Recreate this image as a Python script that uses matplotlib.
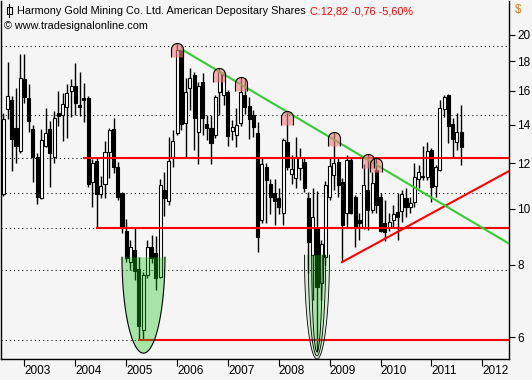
import numpy as np
import matplotlib
matplotlib.use("Agg")
import matplotlib.pyplot as plt
from matplotlib.path import Path
from matplotlib.lines import Line2D
from matplotlib.patches import Rectangle

# ---------------- data (monthly bars, Aug 2002 .. Aug 2011) ----------------

opens = [10.61, 14.89, 15.43, 13.80, 12.59, 16.78, 15.55, 13.75, 12.30, 10.44,
         12.85, 13.75, 12.30, 14.65, 14.53, 15.01, 15.99, 16.32, 15.13, 15.55,
         15.55, 11.13, 12.10, 10.61, 11.04, 12.54, 13.75, 11.82, 10.65, 9.15,
         8.10, 8.49, 7.87, 6.17, 7.68, 8.59, 8.39, 7.62, 10.78, 10.32,
         12.30, 13.53, 18.84, 14.08, 16.19, 17.05, 13.58, 16.58, 14.02, 13.80,
         13.42, 15.93, 15.74, 15.93, 13.64, 13.42, 14.08, 15.74, 15.07, 14.53,
         13.53, 9.57, 11.82, 11.04, 10.65, 10.44, 9.84, 13.06, 11.49, 11.31,
         11.77, 12.05, 10.44, 8.32, 9.27, 7.44, 8.25, 10.49, 11.45, 12.05,
         11.13, 9.84, 12.15, 10.49, 9.57, 9.30, 10.78, 9.95, 11.68, 10.49,
         9.46, 9.30, 9.57, 9.88, 9.91, 10.44, 10.08, 10.28, 11.27, 11.40,
         11.36, 12.64, 10.96, 11.68, 14.89, 15.74, 14.02, 13.06, 13.58]
highs = [14.65, 17.96, 15.68, 16.19, 18.54, 18.54, 16.45, 13.97, 12.50, 13.75,
         14.95, 14.19, 14.77, 15.99, 15.87, 16.45, 16.78, 17.88, 17.25, 16.51,
         15.68, 12.20, 12.25, 11.40, 13.11, 13.80, 14.36, 12.05, 10.70, 9.61,
         8.83, 9.27, 8.25, 7.78, 8.83, 9.01, 8.97, 11.27, 11.59, 13.32,
         13.69, 19.38, 19.07, 16.85, 17.53, 17.25, 16.58, 17.18, 14.53, 14.53,
         15.74, 17.53, 17.25, 16.06, 14.25, 14.95, 16.91, 16.85, 15.62, 14.83,
         14.14, 12.25, 12.01, 11.27, 11.27, 10.87, 13.26, 14.77, 12.40, 13.32,
         12.74, 12.30, 10.70, 10.87, 10.74, 8.83, 11.18, 12.30, 13.58, 12.30,
         11.31, 12.40, 12.30, 10.57, 9.84, 11.96, 12.45, 11.59, 12.25, 10.65,
         10.36, 9.84, 10.16, 10.65, 10.78, 10.87, 10.49, 12.01, 11.91, 12.85,
         13.06, 12.74, 11.91, 15.43, 15.74, 15.80, 14.36, 14.65, 15.13]
lows = [10.55, 14.31, 11.63, 12.01, 12.50, 15.25, 13.58, 11.13, 10.20, 10.40,
        12.80, 10.91, 12.01, 13.91, 13.11, 13.26, 14.42, 14.53, 14.47, 14.14,
        10.91, 10.08, 9.27, 10.44, 10.44, 11.31, 11.54, 10.36, 9.08, 8.10,
        7.84, 7.53, 5.93, 5.95, 7.59, 8.06, 7.23, 7.59, 9.72, 10.16,
        11.82, 13.45, 13.69, 12.30, 14.83, 12.64, 11.96, 13.42, 13.16, 11.96,
        13.26, 14.53, 15.13, 12.85, 13.16, 12.80, 13.91, 14.59, 13.21, 13.32,
        8.42, 9.46, 9.46, 9.80, 9.38, 9.80, 9.38, 11.68, 11.04, 10.87,
        11.22, 10.70, 7.74, 6.95, 5.66, 6.95, 8.00, 10.36, 10.78, 10.49,
        8.10, 9.30, 9.80, 8.59, 8.83, 9.23, 9.19, 9.84, 9.84, 9.12,
        8.80, 9.15, 9.30, 8.83, 9.49, 9.68, 9.84, 10.08, 10.87, 11.22,
        11.22, 10.28, 10.49, 11.65, 14.42, 13.00, 12.30, 12.64, 11.91]
closes = [14.31, 15.68, 13.21, 12.85, 16.85, 15.62, 14.19, 12.30, 10.49, 13.16,
          13.53, 12.50, 14.36, 14.47, 15.19, 15.87, 16.32, 15.25, 15.01, 15.43,
          11.04, 12.01, 10.61, 10.96, 12.54, 13.69, 11.82, 10.49, 9.30, 8.22,
          8.59, 7.81, 6.27, 7.68, 8.59, 8.22, 7.59, 11.00, 10.44, 12.10,
          13.11, 18.84, 14.02, 15.93, 16.85, 14.36, 16.32, 14.36, 13.80, 13.00,
          15.62, 17.25, 17.05, 13.37, 13.86, 13.97, 15.93, 15.01, 14.31, 13.86,
          8.94, 11.96, 11.22, 10.49, 10.32, 10.08, 13.16, 11.82, 11.73, 12.30,
          12.25, 10.87, 8.76, 9.68, 7.32, 8.69, 11.00, 11.86, 12.01, 11.00,
          9.38, 12.15, 9.84, 9.30, 9.46, 11.00, 9.95, 11.09, 10.16, 9.15,
          9.12, 9.49, 9.80, 9.68, 10.61, 10.08, 10.24, 11.36, 11.59, 11.36,
          12.59, 10.91, 11.82, 14.95, 15.62, 13.91, 13.21, 13.58, 12.82]

years = [2003, 2004, 2005, 2006, 2007, 2008, 2009, 2010, 2011, 2012]
price_ticks = [6, 8, 10, 12, 14, 16, 18, 20]
grid_levels = [19.15, 14.53, 12.25, 10.65, 9.28, 7.84, 5.94]

# drawing objects (bar index, price)
support_lines = [(18.8, 12.25), (21.9, 9.28), (31.8, 5.94)]
red_trend = ([79.9, 119.3], [8.09, 11.63])
green_trend = ([42.1, 119.3], [18.89, 8.71])
peak_bars = [41, 51, 56, 67, 78, 86, 88]
bottom_ellipse = (33.07, 5.07, 8.25, 5.63)
crash_ellipses = [(74.0, 2.95, 8.32, 5.50), (74.0, 2.05, 8.32, 5.57), (74.0, 1.25, 8.32, 5.66)]

# ---------------- figure ----------------

W, H = 532, 380
BG = "#f5f5f5"
fig = plt.figure(figsize=(W / 100, H / 100), dpi=100, facecolor=BG)
ax = fig.add_axes([1 / W, 21 / H, 508 / W, 358 / H], facecolor=BG)
ax.set_yscale("log")

idx = np.arange(len(opens))
o = np.array(opens); h = np.array(highs); l = np.array(lows); c = np.array(closes)

# dotted grid
for g in grid_levels:
    ax.axhline(g, color="black", lw=0.75, ls=(0, (1, 3)), zorder=1)

# candles
ax.vlines(idx, l, h, color="black", lw=1.0, zorder=2)
up = c >= o
top = np.maximum(o, c); bot = np.minimum(o, c)
ax.bar(idx[up], top[up] - bot[up], bottom=bot[up], width=0.72,
       facecolor="white", edgecolor="black", lw=0.8, zorder=3)
ax.bar(idx[~up], top[~up] - bot[~up], bottom=bot[~up], width=0.72,
       facecolor="black", edgecolor="black", lw=0.8, zorder=3)

# support / trend lines
for x0, lvl in support_lines:
    ax.plot([x0, 119.3], [lvl, lvl], color="#ff0000", lw=1.5, zorder=5,
            solid_capstyle="butt")
ax.plot(*red_trend, color="#ff0000", lw=1.5, zorder=5)
ax.plot(*green_trend, color="#33cc33", lw=1.5, zorder=5)


# half ellipses under the lows
def half_ellipse(cx, a, top_p, bot_p, alpha, lw=0.8):
    t = np.linspace(0, np.pi, 80)
    xs = cx + a * np.cos(t)
    ly = np.log(top_p) - (np.log(top_p) - np.log(bot_p)) * np.sin(t)
    ys = np.exp(ly)
    ax.fill(xs, ys, color="#1ac51a", alpha=alpha, lw=0, zorder=6)
    ax.plot(xs, ys, color="black", lw=lw, zorder=6)


half_ellipse(*bottom_ellipse, alpha=0.35)
for e in crash_ellipses:
    half_ellipse(*e, alpha=0.13, lw=0.6)

# bullet markers on the tops
r = 6.0
t = np.linspace(0, np.pi, 30)
arc = np.column_stack([r * np.cos(t), -r + r * np.sin(t)])
outline = np.vstack([[r, -14], arc, [-r, -14]])
fill_path = Path(np.vstack([outline, [[r, -14]]]))
edge_path = Path(outline)
ms = 2 * 14 * 0.72
ax.plot(idx[peak_bars], h[peak_bars], ls="none", marker=fill_path, ms=ms,
        mfc="#f08080", mec="none", alpha=0.6, zorder=7)
ax.plot(idx[peak_bars], h[peak_bars], ls="none", marker=edge_path, ms=ms,
        mfc="none", mec="black", mew=0.8, zorder=7)

# axes
ax.set_xlim(-0.54, 119.3)
ax.set_ylim(5.50, 22.9)
ax.spines["top"].set_visible(False)
for s in ("left", "right", "bottom"):
    ax.spines[s].set_linewidth(1.0)

ax.yaxis.tick_right()
ax.set_yticks(price_ticks)
ax.set_yticklabels([str(v) for v in price_ticks])
ax.yaxis.set_minor_locator(matplotlib.ticker.NullLocator())
ax.tick_params(axis="y", direction="out", length=4, width=0.8, pad=2,
               labelsize=8.5, colors="black")

ax.set_xticks([(yr - 2002) * 12 - 7 for yr in years])
ax.set_xticklabels([str(yr) for yr in years])
ax.tick_params(axis="x", direction="out", length=5, width=0.8, pad=-1,
               labelsize=8.5)
for lab in ax.get_xticklabels():
    lab.set_horizontalalignment("left")

for lab in ax.get_xticklabels() + ax.get_yticklabels():
    lab.set_fontfamily("Liberation Sans")

# title lines
title = fig.text(17 / W, 1 - 11 / H, "Harmony Gold Mining Co. Ltd. American Depositary Shares",
                 fontsize=7.8, family="Liberation Sans", va="center", ha="left")
fig.canvas.draw()
bb = title.get_window_extent(fig.canvas.get_renderer())
fig.text((bb.x1 + 4) / W, 1 - 11 / H, "C:12,82 -0,76 -5,60%", color="#ff0000",
         fontsize=7.8, family="Liberation Sans", va="center", ha="left")
fig.text(4 / W, 1 - 26 / H, "\u00a9 www.tradesignalonline.com",
         fontsize=7.8, family="Liberation Sans", va="center", ha="left")
fig.text(515 / W, 1 - 10 / H, "$", color="#c8841e", fontsize=8.5,
         family="Liberation Sans", va="center", ha="left")

# small candle icon
fig.add_artist(Line2D([9 / W, 9 / W], [1 - 4 / H, 1 - 17 / H], color="black", lw=0.8))
fig.add_artist(Rectangle((6.5 / W, 1 - 14 / H), 5 / W, 7 / H, facecolor="white",
                         edgecolor="black", lw=0.8, transform=fig.transFigure))

fig.savefig("out.png", dpi=100, facecolor=BG)
